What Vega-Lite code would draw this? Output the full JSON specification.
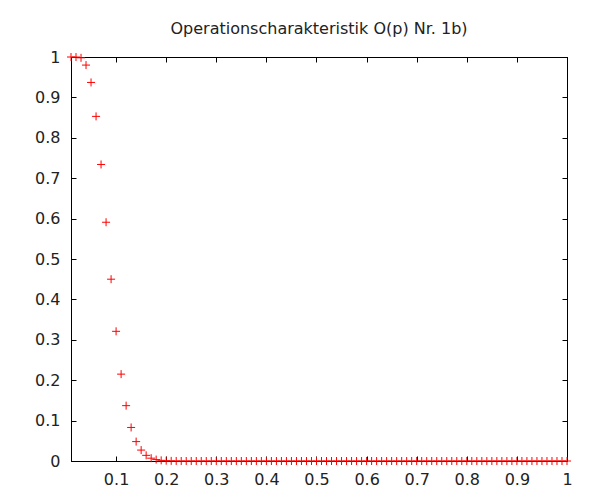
{
  "$schema": "https://vega.github.io/schema/vega-lite/v6.json",
  "autosize": "none",
  "width": 496,
  "height": 404,
  "padding": {"left": 71, "top": 57, "right": 33, "bottom": 39},
  "background": "white",
  "config": {
    "view": {"stroke": "black", "strokeWidth": 1},
    "font": "DejaVu Sans",
    "axis": {"grid": false, "domainColor": "black", "tickColor": "black", "labelColor": "#222", "labelFont": "DejaVu Sans", "labelFontSize": 16, "tickSize": -5, "title": null}
  },
  "title": {"text": "Operationscharakteristik O(p) Nr. 1b)", "font": "DejaVu Sans", "fontSize": 16, "fontWeight": "normal", "color": "#222", "offset": 12, "anchor": "middle"},
  "data": {"values": [
    {"p": 0.01, "o": 1.0}, {"p": 0.02, "o": 0.9999}, {"p": 0.03, "o": 0.998}, {"p": 0.04, "o": 0.98},
    {"p": 0.05, "o": 0.937}, {"p": 0.06, "o": 0.853}, {"p": 0.07, "o": 0.734}, {"p": 0.08, "o": 0.591},
    {"p": 0.09, "o": 0.45}, {"p": 0.10, "o": 0.321}, {"p": 0.11, "o": 0.215}, {"p": 0.12, "o": 0.137},
    {"p": 0.13, "o": 0.083}, {"p": 0.14, "o": 0.048}, {"p": 0.15, "o": 0.027}, {"p": 0.16, "o": 0.014},
    {"p": 0.17, "o": 0.007}, {"p": 0.18, "o": 0.0035}, {"p": 0.19, "o": 0.0016}, {"p": 0.20, "o": 0.0007},
    {"p": 0.21, "o": 0.0003}, {"p": 0.22, "o": 0.0001}, {"p": 0.23, "o": 0}, {"p": 0.24, "o": 0},
    {"p": 0.25, "o": 0}, {"p": 0.26, "o": 0}, {"p": 0.27, "o": 0}, {"p": 0.28, "o": 0},
    {"p": 0.29, "o": 0}, {"p": 0.30, "o": 0}, {"p": 0.31, "o": 0}, {"p": 0.32, "o": 0},
    {"p": 0.33, "o": 0}, {"p": 0.34, "o": 0}, {"p": 0.35, "o": 0}, {"p": 0.36, "o": 0},
    {"p": 0.37, "o": 0}, {"p": 0.38, "o": 0}, {"p": 0.39, "o": 0}, {"p": 0.40, "o": 0},
    {"p": 0.41, "o": 0}, {"p": 0.42, "o": 0}, {"p": 0.43, "o": 0}, {"p": 0.44, "o": 0},
    {"p": 0.45, "o": 0}, {"p": 0.46, "o": 0}, {"p": 0.47, "o": 0}, {"p": 0.48, "o": 0},
    {"p": 0.49, "o": 0}, {"p": 0.50, "o": 0}, {"p": 0.51, "o": 0}, {"p": 0.52, "o": 0},
    {"p": 0.53, "o": 0}, {"p": 0.54, "o": 0}, {"p": 0.55, "o": 0}, {"p": 0.56, "o": 0},
    {"p": 0.57, "o": 0}, {"p": 0.58, "o": 0}, {"p": 0.59, "o": 0}, {"p": 0.60, "o": 0},
    {"p": 0.61, "o": 0}, {"p": 0.62, "o": 0}, {"p": 0.63, "o": 0}, {"p": 0.64, "o": 0},
    {"p": 0.65, "o": 0}, {"p": 0.66, "o": 0}, {"p": 0.67, "o": 0}, {"p": 0.68, "o": 0},
    {"p": 0.69, "o": 0}, {"p": 0.70, "o": 0}, {"p": 0.71, "o": 0}, {"p": 0.72, "o": 0},
    {"p": 0.73, "o": 0}, {"p": 0.74, "o": 0}, {"p": 0.75, "o": 0}, {"p": 0.76, "o": 0},
    {"p": 0.77, "o": 0}, {"p": 0.78, "o": 0}, {"p": 0.79, "o": 0}, {"p": 0.80, "o": 0},
    {"p": 0.81, "o": 0}, {"p": 0.82, "o": 0}, {"p": 0.83, "o": 0}, {"p": 0.84, "o": 0},
    {"p": 0.85, "o": 0}, {"p": 0.86, "o": 0}, {"p": 0.87, "o": 0}, {"p": 0.88, "o": 0},
    {"p": 0.89, "o": 0}, {"p": 0.90, "o": 0}, {"p": 0.91, "o": 0}, {"p": 0.92, "o": 0},
    {"p": 0.93, "o": 0}, {"p": 0.94, "o": 0}, {"p": 0.95, "o": 0}, {"p": 0.96, "o": 0},
    {"p": 0.97, "o": 0}, {"p": 0.98, "o": 0}, {"p": 0.99, "o": 0}, {"p": 1.00, "o": 0}
  ]},
  "layer": [
    {
      "mark": {"type": "point", "shape": "M-1,0H1M0,-1V1", "size": 64, "stroke": "#ff0000", "strokeWidth": 1, "filled": false, "opacity": 1, "clip": false},
      "encoding": {
        "x": {"field": "p", "type": "quantitative", "scale": {"domain": [0.01, 1], "nice": false, "zero": false},
              "axis": {"orient": "bottom", "values": [0.1, 0.2, 0.3, 0.4, 0.5, 0.6, 0.7, 0.8, 0.9, 1], "format": "~g", "labelPadding": 15, "labelFlush": false}},
        "y": {"field": "o", "type": "quantitative", "scale": {"domain": [0, 1], "nice": false},
              "axis": {"orient": "left", "values": [0, 0.1, 0.2, 0.3, 0.4, 0.5, 0.6, 0.7, 0.8, 0.9, 1], "format": "~g", "labelPadding": 16, "labelFlush": false}}
      }
    },
    {
      "mark": {"type": "point", "opacity": 0},
      "encoding": {
        "x": {"field": "p", "type": "quantitative", "axis": {"orient": "top", "values": [0.1, 0.2, 0.3, 0.4, 0.5, 0.6, 0.7, 0.8, 0.9, 1], "labels": false}},
        "y": {"field": "o", "type": "quantitative", "axis": {"orient": "right", "values": [0, 0.1, 0.2, 0.3, 0.4, 0.5, 0.6, 0.7, 0.8, 0.9, 1], "labels": false}}
      }
    }
  ],
  "resolve": {"axis": {"x": "independent", "y": "independent"}}
}
